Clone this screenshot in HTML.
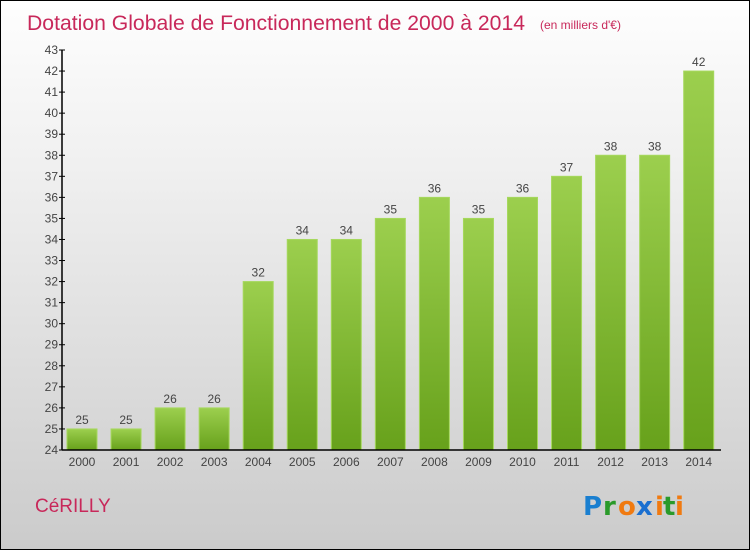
<!DOCTYPE html>
<html><head><meta charset="utf-8"><style>
html,body{margin:0;padding:0}
body{width:750px;height:550px;overflow:hidden;font-family:"Liberation Sans","DejaVu Sans",sans-serif}
#wrap{position:absolute;left:0;top:0;width:748px;height:548px;border:1px solid #000;background:linear-gradient(#fefefe,#f0f0f0 30%,#cbcbcb)}
</style></head><body>
<div id="wrap">
<svg width="750" height="550" style="position:absolute;left:-1px;top:-1px">
<defs>
<linearGradient id="bg1" x1="0" y1="0" x2="0" y2="1"><stop offset="0" stop-color="#9ccf4e"/><stop offset="1" stop-color="#67a11b"/></linearGradient>
</defs>
<text x="27" y="30" font-size="21" fill="#c8285a" textLength="498" lengthAdjust="spacingAndGlyphs">Dotation Globale de Fonctionnement de 2000 à 2014</text>
<text x="540" y="29" font-size="12" fill="#c8285a">(en milliers d'€)</text>
<g id="bars"></g>
<g id="axes"></g>
<text x="35" y="512" font-size="19" fill="#c8285a">CéRILLY</text>
<g font-size="26" font-weight="bold" font-family="DejaVu Sans, sans-serif">
<text x="583" y="515" fill="#1a7fd0">P</text><text x="603" y="515" fill="#2a9a2a">r</text><text x="618" y="515" fill="#f07a10">o</text><text x="636" y="515" fill="#1a6fd0">x</text><text x="655" y="515" fill="#f07a10">i</text><text x="663" y="515" fill="#2a9a2a">t</text><text x="675" y="515" fill="#f07a10">i</text>
</g>
</svg>
</div>
<script>
const years=["2000","2001","2002","2003","2004","2005","2006","2007","2008","2009","2010","2011","2012","2013","2014"];
const values=[25,25,26,26,32,34,34,35,36,35,36,37,38,38,42];
const yTicks=[24,25,26,27,28,29,30,31,32,33,34,35,36,37,38,39,40,41,42,43];
const NS="http://www.w3.org/2000/svg";
const yMin=24,yMax=43,plotTop=50,plotBot=450,x0=62,x1=721;
const y=v=>plotBot-(v-yMin)*(plotBot-plotTop)/(yMax-yMin);
const xc=i=>82+i*44.05;
function mk(t,a,p){const e=document.createElementNS(NS,t);for(const k in a)e.setAttribute(k,a[k]);p.appendChild(e);return e;}
const gb=document.getElementById('bars'),ga=document.getElementById('axes');
values.forEach((v,i)=>{
 const r=mk('rect',{x:xc(i)-15,y:y(v),width:30,height:plotBot-y(v),fill:'url(#bg1)',stroke:'#a6d85e','stroke-width':1},gb);
 
 
 const t=mk('text',{x:xc(i),y:y(v)-5,'text-anchor':'middle','font-size':12,fill:'#444'},gb);t.textContent=v;
 
 
 const xl=mk('text',{x:xc(i),y:plotBot+16,'text-anchor':'middle','font-size':12,fill:'#444'},ga);xl.textContent=years[i];
 
 
});
yTicks.forEach(v=>{
 mk('line',{x1:x0-3,x2:x0+3,y1:y(v),y2:y(v),stroke:'#000'},ga);
 const t=mk('text',{x:x0-4,y:y(v)+4,'text-anchor':'end','font-size':12,fill:'#444'},ga);t.textContent=v;
 
 
});
const ya=mk('line',{x1:x0,x2:x0,y1:plotTop,y2:plotBot,stroke:'#000','stroke-width':1.5},ga);


const xa=mk('line',{x1:x0,x2:x1,y1:plotBot,y2:plotBot,stroke:'#000','stroke-width':1.5},ga);


</script>
</body></html>
